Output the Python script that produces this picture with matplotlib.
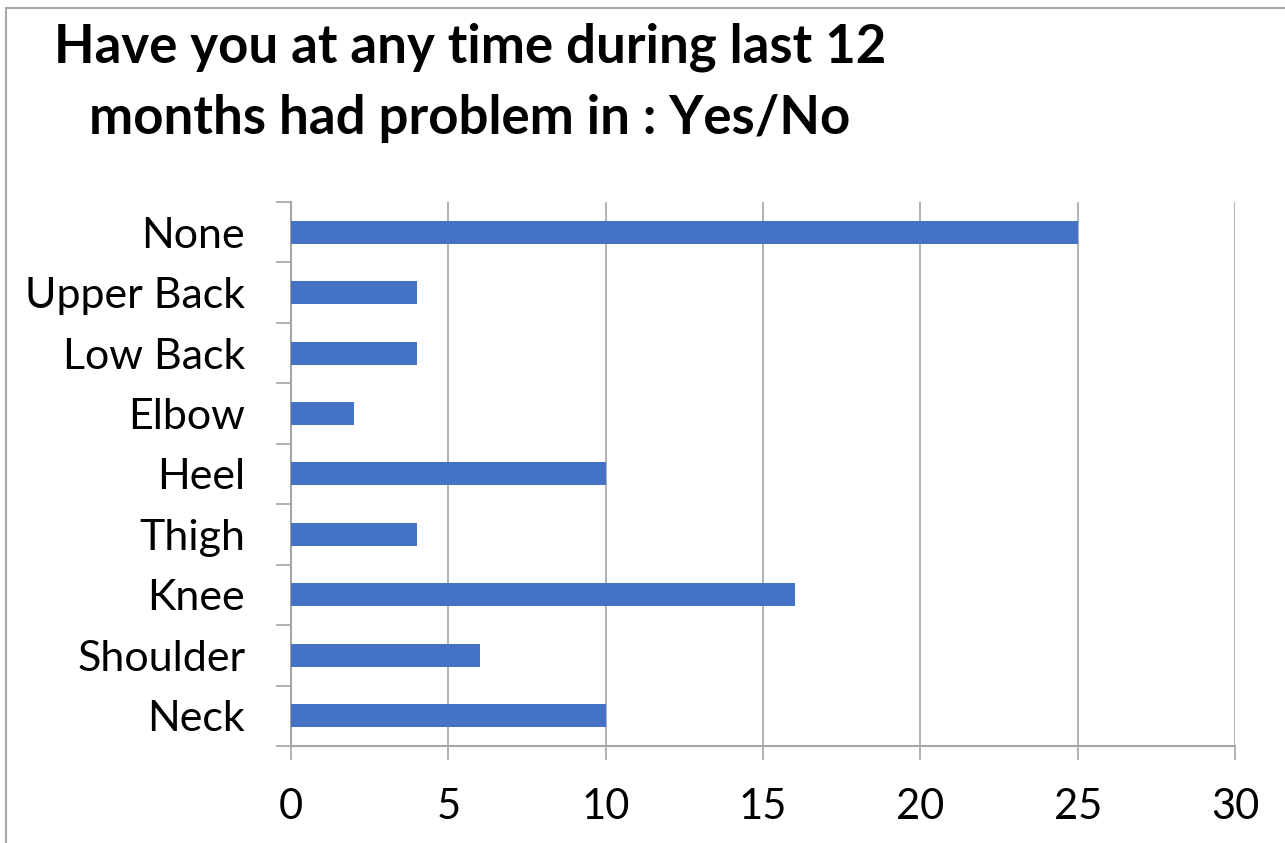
import matplotlib
matplotlib.use('Agg')
import matplotlib.pyplot as plt
from matplotlib.lines import Line2D
import numpy as np

plt.rcParams['font.family'] = ['Lato', 'DejaVu Sans']

# Body regions (bottom to top as drawn) and counts
regions = ['Neck', 'Shoulder', 'Knee', 'Thigh', 'Heel', 'Elbow', 'Low Back', 'Upper Back', 'None']
counts = [10, 6, 16, 4, 10, 2, 4, 4, 25]
xticks = [0, 5, 10, 15, 20, 25, 30]
title_lines = ['Have you at any time during last 12', 'months had problem in : Yes/No']

BAR = '#4472C4'
GRID = '#A6A6A6'
W, H = 1285, 843

fig = plt.figure(figsize=(W / 100, H / 100), dpi=100)
ax = fig.add_axes([0.2265, 0.1151, 0.7347, 0.6453])

y = np.arange(len(regions))
ax.barh(y, counts, height=0.38, color=BAR, zorder=3)

ax.set_xlim(0, 30)
ax.set_ylim(-0.5, len(regions) - 0.5)
ax.set_xticks(xticks)
ax.set_xticklabels([str(t) for t in xticks], fontsize=30)
ax.set_yticks(y)
ax.set_yticklabels(regions, fontsize=31)
ax.set_yticks(np.arange(len(regions) + 1) - 0.5, minor=True)

ax.tick_params(axis='y', which='major', length=0, pad=33)
ax.tick_params(axis='y', which='minor', length=11, color=GRID, width=1.2)
ax.tick_params(axis='x', which='major', length=10, color=GRID, width=1.2, pad=20)

ax.grid(axis='x', color=GRID, linewidth=1.2, zorder=0)
for side in ['top', 'right']:
    ax.spines[side].set_visible(False)
for side in ['left', 'bottom']:
    ax.spines[side].set_color(GRID)
    ax.spines[side].set_linewidth(1.5)

# two-line bold title, baselines placed in pixel rows
for line, base in zip(title_lines, [62, 134]):
    fig.text(470 / W, 1 - base / H, line, ha='center', va='baseline',
             fontsize=38, fontweight='bold')

# chart frame, left and top edges only
fig.add_artist(Line2D([6 / W, 6 / W], [0, 1 - 8 / H], transform=fig.transFigure,
                      color=GRID, linewidth=1.5))
fig.add_artist(Line2D([6 / W, 1], [1 - 8 / H, 1 - 8 / H], transform=fig.transFigure,
                      color=GRID, linewidth=1.5))

fig.savefig('out.png', dpi=100)
